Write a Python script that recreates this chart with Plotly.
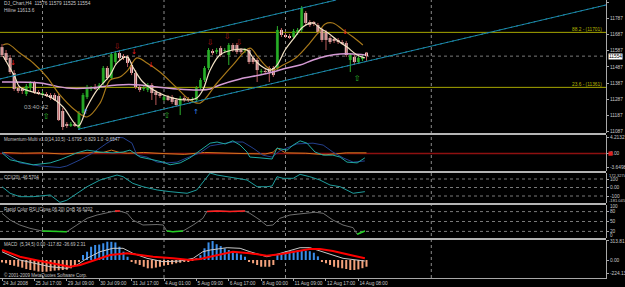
import plotly.graph_objects as go

# ---------------- data ----------------
bars = list(range(91))
opens = [11610, 11573, 11543, 11450, 11357, 11345, 11320, 11357, 11388, 11332,
         11314, 11320, 11314, 11314, 11308, 11215, 11135, 11122, 11135, 11110,
         11203, 11301, 11351, 11363, 11357, 11388, 11481, 11419, 11518, 11573,
         11555, 11549, 11499, 11450, 11363, 11351, 11345, 11376, 11332, 11320,
         11289, 11301, 11301, 11283, 11252, 11295, 11289, 11283, 11283, 11357,
         11407, 11481, 11586, 11580, 11604, 11586, 11561, 11623, 11623, 11592,
         11586, 11592, 11543, 11530, 11456, 11462, 11481, 11481, 11481, 11716,
         11685, 11678, 11672, 11697, 11716, 11821, 11765, 11759, 11746, 11716,
         11703, 11666, 11654, 11654, 11641, 11635, 11530, 11549, 11518, 11536,
         11576]
highs = [11629, 11592, 11561, 11468, 11369, 11357, 11382, 11400, 11400, 11345,
         11339, 11332, 11326, 11326, 11320, 11234, 11147, 11147, 11147, 11215,
         11326, 11376, 11369, 11382, 11388, 11493, 11493, 11580, 11586, 11592,
         11567, 11561, 11518, 11468, 11376, 11376, 11388, 11388, 11345, 11332,
         11314, 11314, 11314, 11295, 11308, 11308, 11301, 11301, 11369, 11419,
         11493, 11604, 11598, 11604, 11617, 11604, 11635, 11635, 11635, 11604,
         11604, 11604, 11555, 11543, 11475, 11475, 11493, 11493, 11740, 11728,
         11697, 11691, 11722, 11728, 11864, 11833, 11777, 11771, 11759, 11728,
         11716, 11678, 11666, 11666, 11654, 11648, 11573, 11561, 11555, 11561,
         11579]
lows = [11549, 11518, 11444, 11339, 11326, 11320, 11308, 11339, 11320, 11314,
        11308, 11301, 11283, 11277, 11153, 11098, 11110, 11116, 11116, 11098,
        11190, 11289, 11339, 11345, 11345, 11376, 11407, 11407, 11505, 11530,
        11530, 11487, 11437, 11351, 11332, 11339, 11332, 11283, 11252, 11295,
        11277, 11277, 11258, 11240, 11190, 11271, 11271, 11271, 11271, 11345,
        11394, 11468, 11561, 11567, 11549, 11573, 11499, 11580, 11567, 11567,
        11573, 11505, 11505, 11394, 11444, 11444, 11394, 11425, 11468, 11672,
        11666, 11660, 11660, 11685, 11703, 11746, 11734, 11740, 11691, 11641,
        11592, 11629, 11635, 11629, 11623, 11549, 11456, 11499, 11505, 11524,
        11525]
closes = [11561, 11530, 11456, 11351, 11339, 11339, 11369, 11388, 11332, 11326,
          11326, 11308, 11295, 11283, 11159, 11116, 11122, 11135, 11128, 11203,
          11314, 11363, 11357, 11357, 11376, 11481, 11419, 11567, 11573, 11543,
          11543, 11512, 11450, 11363, 11345, 11357, 11376, 11326, 11314, 11308,
          11301, 11289, 11271, 11252, 11295, 11283, 11283, 11289, 11357, 11407,
          11481, 11592, 11573, 11592, 11561, 11592, 11623, 11592, 11580, 11580,
          11592, 11518, 11518, 11468, 11462, 11456, 11456, 11437, 11716, 11685,
          11678, 11672, 11709, 11716, 11852, 11759, 11746, 11753, 11703, 11654,
          11654, 11641, 11648, 11641, 11635, 11561, 11561, 11518, 11543, 11549,
          11554]

ma_fast_x = [0.25, 3.2, 4.4, 7.7, 11.9, 15.1, 18.8, 21.0, 23.5, 26.7, 28.4, 30.9, 32.3,
             34.8, 38.3, 42.2, 45.7, 48.1, 49.6, 51.4, 53.8, 57.0, 60.5, 62.0, 63.7,
             66.2, 67.9, 69.9, 72.3, 74.3, 76.8, 78.5, 80.5, 82.7, 85.2, 87.7, 89.6]
ma_fast_y = [11555, 11425, 11363, 11332, 11301, 11240, 11122, 11240, 11345, 11437, 11512,
             11549, 11487, 11394, 11332, 11295, 11283, 11295, 11345, 11468, 11561, 11592,
             11592, 11543, 11499, 11468, 11499, 11592, 11672, 11734, 11759, 11728, 11697,
             11654, 11610, 11561, 11543]
ma_mid_x = [0.25, 1.5, 4.4, 7.7, 11.1, 14.3, 18.0, 21.0, 24.2, 26.7, 29.1, 31.1, 33.3,
            35.8, 39.0, 43.2, 46.4, 48.9, 53.1, 57.0, 61.2, 63.2, 65.4, 66.9, 69.4,
            72.8, 76.0, 78.0, 79.8, 81.7, 84.2, 86.7, 89.1]
ma_mid_y = [11623, 11629, 11573, 11512, 11425, 11314, 11221, 11178, 11264, 11407, 11425,
            11468, 11543, 11512, 11456, 11357, 11283, 11264, 11388, 11499, 11604, 11549,
            11487, 11468, 11499, 11549, 11635, 11697, 11753, 11759, 11716, 11672, 11623]
ma_slow_x = [0.0, 9.4, 16.0, 21.7, 28.4, 34.1, 38.3, 43.2, 48.9, 51.4, 53.8, 58.8, 63.7,
             66.9, 70.4, 73.6, 76.8, 80.2, 83.5, 86.7, 89.6]
ma_slow_y = [11394, 11388, 11357, 11357, 11376, 11376, 11363, 11351, 11345, 11351, 11376,
             11413, 11437, 11456, 11481, 11499, 11530, 11555, 11567, 11567, 11561]

channel_upper_x = [-0.5, 82.5]
channel_upper_y = [11413, 11901]
channel_lower_x = [18.8, 149.1]
channel_lower_y = [11102, 11870]

fib_levels = [11701, 11361]
fib_labels = ["88.2 - (11701)", "23.6 - (11361)"]
bid_price = 11554

sell_hollow_x = [28.4, 51.4, 55.6, 58.5]
sell_hollow_y = [11610, 11635, 11672, 11635]
sell_small_x = [2.7, 32.6, 36.8, 84.7]
sell_small_y = [11512, 11580, 11499, 11703]
buy_hollow_x = [10.9, 40.7, 87.7]
buy_hollow_y = [11180, 11184, 11413]
buy_small_x = [20.7, 47.9]
buy_small_y = [11209, 11209]

price_ticks = [11887, 11787, 11687, 11587, 11487, 11387, 11287, 11187, 11087]

# Momentum-Multi
mom_navy_x = [0, 4.4, 9.4, 14.3, 16.0, 19.3, 22.5, 25.9, 28.4, 29.9, 32.1, 33.3, 35.8, 38.3,
              40.7, 43.2, 45.7, 48.9, 51.4, 57.0, 59.5, 62.0, 64.4, 66.7, 68.6, 72.8, 76.8,
              79.3, 81.7, 84.2, 86.7, 89.6]
mom_navy_y = [0.4, -2.4, -3.2, -3.6, -3.2, -1.6, 0.2, 2.7, 4.2, 4.1, 2.7, -0.4, -0.9, -2.2,
              -2.4, -2.2, -1.1, 0.2, 2.0, 3.0, 3.0, 1.4, -0.4, -0.9, 0.7, 2.5, 2.7, 2.2, 0.4,
              -1.1, -2.2, -1.9]
mom_teal_x = [0, 2.0, 7.7, 11.9, 14.3, 18.5, 21.0, 24.2, 27.4, 29.9, 31.6, 34.1, 37.3, 39.8,
              41.5, 44.0, 46.4, 48.9, 51.4, 53.1, 55.1, 57.0, 58.8, 60.5, 61.2, 63.7, 66.7,
              67.9, 70.4, 71.9, 73.6, 75.3, 77.3, 79.3, 81.7, 83.5, 85.2, 87.7, 89.6]
mom_teal_y = [0.2, -1.6, -2.9, -2.4, -1.6, 0.2, 0.9, 0.4, 0.2, 0.4, 0.9, -0.9, -1.6, -2.2,
              -2.9, -2.4, -1.1, 0.9, 2.7, 3.0, 2.5, 3.3, 2.2, 0.4, -0.9, -1.1, -1.4, 1.4, 0.9,
              2.2, 3.3, 2.7, 0.4, -0.4, -0.4, -0.9, -2.2, -2.4, -1.1]
mom_orange_x = [0, 5, 10, 15, 20, 25, 27, 29, 31, 35, 40, 45, 50, 55, 60, 65, 67, 68, 70,
                75, 80, 85, 88, 90]
mom_orange_y = [0.3, 0.1, 0.2, -0.1, 0.2, 0.3, 0.9, 0.3, 0.1, 0.3, 0.0, -0.2, 0.3, 0.1, 0.0,
                -0.1, 0.4, 1.4, 0.2, 0.1, -0.3, 0.2, 0.1, 0.2]
mom_ticks = [4.2132, 0.0, -3.6498]
mom_tick_text = ["4.2132", "0.00", "-3.6498"]

# CCI(20)
cci_x = [0, 2.0, 4.4, 7.7, 11.9, 14.3, 16.0, 18.5, 21.0, 24.2, 26.7, 28.4, 29.9, 32.3, 34.8,
         38.3, 41.5, 45.7, 48.1, 51.4, 53.1, 55.6, 57.0, 60.5, 63.0, 65.4, 66.7, 67.9, 69.4,
         71.9, 73.6, 76.0, 78.5, 81.0, 83.5, 85.2, 86.7, 89.6]
cci_y = [9, -68, -108, -108, -88, -175, -150, -68, 9, 88, 127, 147, 127, 49, 9, -29, -49,
         -68, -29, 170, 147, 127, 120, 88, 9, 9, 18, 127, 108, 108, 155, 127, 88, 29, 9, -29,
         -68, -49]
cci_levels = [100, 0, -100]
cci_max_label = "172.3274"
cci_min_label = "-181.0452"

# Rapid Color RSI
rsi_x = [0, 2.0, 4.4, 6.9, 9.9, 13.1, 16.0, 18.5, 21.0, 23.5, 26.7, 27.9, 29.1, 30.9, 32.3,
         34.8, 38.3, 39.8, 40.7, 42.2, 44.7, 47.2, 49.6, 50.6, 53.1, 56.3, 60.0, 61.2, 63.7,
         65.4, 66.9, 68.6, 71.1, 75.3, 77.3, 79.3, 81.7, 84.2, 86.7, 87.7, 89.1, 89.6]
rsi_y = [74.8, 54.5, 39.4, 29.4, 21.2, 19.7, 19.1, 39.4, 59.7, 69.7, 77.9, 81.8, 81.8, 74.8,
         54.5, 39.4, 40.9, 39.4, 21.0, 19.1, 21.2, 39.4, 59.7, 80.5, 81.8, 80.5, 81.8, 74.8,
         54.5, 37.3, 39.4, 59.7, 69.7, 74.8, 78.0, 74.8, 54.5, 39.4, 31.2, 11.2, 17.3, 21.2]
rsi_levels = [80, 50, 20]
rsi_tick_text = ["80", "50", "20"]

# MACD
macd_hist = [-40, -54, -83, -95, -111, -127, -150, -165, -175, -190,
             -193, -193, -185, -175, -170, -165, -160, -137, -83, -30,
             83, 137, 219, 248, 255, 276, 302, 300, 290, 219,
             137, 54, -17, -60, -83, -111, -137, -137, -125, -111,
             -90, -83, -70, -54, -45, -28, -22, -10, 30, 80,
             193, 290, 313, 260, 230, 190, 165, 137, 111, 90,
             54, -28, -54, -83, -111, -111, -111, -83, 83, 111,
             137, 145, 153, 160, 165, 153, 145, 120, 60, -17,
             -54, -83, -111, -127, -137, -149, -165, -165, -155, -135,
             -111]
macd_signal_x = [0, 4.4, 9.4, 14.3, 16.8, 19.3, 21.7, 24.2, 26.7, 30.9, 34.1, 37.3, 42.2,
                 46.4, 48.9, 53.1, 57.0, 61.2, 65.4, 68.6, 72.8, 76.0, 78.5, 81.7, 85.2, 89.6]
macd_signal_y = [165, 54, -17, -83, -111, -83, -28, 28, 83, 111, 83, 54, 28, 0, 17, 83, 137,
                 111, 71, 94, 137, 182, 182, 149, 94, 28]
macd_main_x = [0, 4.4, 11.9, 16.0, 18.5, 21.0, 24.2, 27.4, 29.9, 32.3, 35.8, 39.8, 44.0,
               47.2, 49.6, 51.4, 55.6, 58.8, 61.2, 65.4, 67.9, 70.4, 73.6, 76.0, 80.2, 84.2,
               89.6]
macd_main_y = [137, 0, -111, -137, -83, 28, 137, 193, 193, 111, 28, -28, -17, 28, 137, 165,
               203, 193, 137, 54, 94, 137, 203, 203, 111, 28, -17]
macd_ticks = [313.81, 0.0, -224.13]
macd_tick_text = ["313.81", "0.00", "-224.13"]

x_tick_bars = [0, 8, 16, 24, 32, 40, 48, 56, 64, 72, 80, 88]
x_tick_text = ["24 Jul 2008", "25 Jul 17:00", "29 Jul 09:00", "30 Jul 09:00",
               "31 Jul 17:00", "4 Aug 01:00", "5 Aug 09:00", "6 Aug 17:00",
               "8 Aug 00:00", "11 Aug 09:00", "12 Aug 17:00", "14 Aug 08:00"]
week_grid_bars = [10, 40, 70, 106]

# ---------------- styling ----------------
FONT = "Liberation Sans"
AX = "#A8A8A8"
TXT = "#C8C8C8"
H = 278.0  # plot-area height in px


def pdom(top_px, bot_px):
    return [1 - bot_px / H, 1 - top_px / H]


fig = go.Figure()

# candle wicks
bull = [i for i in bars if closes[i] >= opens[i]]
bear = [i for i in bars if closes[i] < opens[i]]
for idx, col in ((bear, "#B85A5A"), (bull, "#2DB02D")):
    wx, wy = [], []
    for i in idx:
        wx += [bars[i], bars[i], None]
        wy += [lows[i], highs[i], None]
    fig.add_trace(go.Scatter(x=wx, y=wy, mode="lines", line=dict(color=col, width=1),
                             hoverinfo="skip", xaxis="x", yaxis="y"))
# candle bodies
for idx, fill in ((bear, "#F5D2D2"), (bull, "#1F9A1F")):
    fig.add_trace(go.Bar(x=[bars[i] for i in idx],
                         y=[max(abs(closes[i] - opens[i]), 2.5) for i in idx],
                         base=[min(opens[i], closes[i]) for i in idx],
                         width=0.72, marker=dict(color=fill, line=dict(width=0)),
                         xaxis="x", yaxis="y"))

# moving averages
fig.add_trace(go.Scatter(x=ma_slow_x, y=ma_slow_y, mode="lines", line=dict(color="#D49AD4", width=1.5, shape="spline"), xaxis="x", yaxis="y"))
fig.add_trace(go.Scatter(x=ma_mid_x, y=ma_mid_y, mode="lines", line=dict(color="#A8791A", width=1.2, shape="spline"), xaxis="x", yaxis="y"))
fig.add_trace(go.Scatter(x=ma_fast_x, y=ma_fast_y, mode="lines", line=dict(color="#F2E2C4", width=1.2, shape="spline"), xaxis="x", yaxis="y"))

# channel
for cx, cy in ((channel_upper_x, channel_upper_y), (channel_lower_x, channel_lower_y)):
    fig.add_trace(go.Scatter(x=cx, y=cy, mode="lines", line=dict(color="#168E9A", width=1), xaxis="x", yaxis="y"))
    fig.add_trace(go.Scatter(x=cx, y=cy, mode="lines", line=dict(color="#2A78C0", width=1, dash="2px,4px"), xaxis="x", yaxis="y"))

# signal arrows
for ax_, ay_, glyph, col, sz in ((sell_hollow_x, sell_hollow_y, "⇩", "#B01818", 8),
                                 (sell_small_x, sell_small_y, "↓", "#F02020", 7),
                                 (buy_hollow_x, buy_hollow_y, "⇧", "#2CB82C", 8),
                                 (buy_small_x, buy_small_y, "↑", "#3A96FF", 7)):
    fig.add_trace(go.Scatter(x=ax_, y=ay_, mode="text", text=[glyph] * len(ax_),
                             textfont=dict(color=col, size=sz, family="DejaVu Sans"),
                             xaxis="x", yaxis="y"))

# momentum
fig.add_trace(go.Scatter(x=mom_orange_x, y=mom_orange_y, mode="lines", line=dict(color="#D2761E", width=1), xaxis="x", yaxis="y2"))
fig.add_trace(go.Scatter(x=mom_navy_x, y=mom_navy_y, mode="lines", line=dict(color="#24408E", width=1), xaxis="x", yaxis="y2"))
fig.add_trace(go.Scatter(x=mom_teal_x, y=mom_teal_y, mode="lines", line=dict(color="#1FA9A0", width=1), xaxis="x", yaxis="y2"))

# CCI
fig.add_trace(go.Scatter(x=cci_x, y=cci_y, mode="lines", line=dict(color="#1E9E9E", width=1), xaxis="x", yaxis="y3"))

# RSI
fig.add_trace(go.Scatter(x=rsi_x, y=rsi_y, mode="lines", line=dict(color="#6E6E6E", width=1), xaxis="x", yaxis="y4"))
fig.add_trace(go.Scatter(x=rsi_x, y=[v if v >= 80 else None for v in rsi_y], mode="lines",
                         line=dict(color="#FF2020", width=1.6), connectgaps=False, xaxis="x", yaxis="y4"))
fig.add_trace(go.Scatter(x=rsi_x, y=[v if v <= 21.5 else None for v in rsi_y], mode="lines",
                         line=dict(color="#22D022", width=1.6), connectgaps=False, xaxis="x", yaxis="y4"))

# MACD
fig.add_trace(go.Bar(x=bars, y=macd_hist, width=0.5,
                     marker=dict(color=["#3A8EEA" if v >= 0 else "#F4A27C" for v in macd_hist], line=dict(width=0)),
                     xaxis="x", yaxis="y5"))
fig.add_trace(go.Scatter(x=macd_main_x, y=macd_main_y, mode="lines", line=dict(color="#C8C8C8", width=1), xaxis="x", yaxis="y5"))
fig.add_trace(go.Scatter(x=macd_signal_x, y=macd_signal_y, mode="lines", line=dict(color="#FF0000", width=2), xaxis="x", yaxis="y5"))

yax_common = dict(side="right", anchor="x", showgrid=False, zeroline=False, showline=True,
                  linecolor=AX, linewidth=1, ticks="outside", ticklen=2, tickcolor=AX,
                  tickfont=dict(size=4.8, color=TXT, family=FONT), automargin=False, fixedrange=True)

shapes = []
# weekly grid
for b in week_grid_bars:
    shapes.append(dict(type="line", xref="x", yref="paper", x0=b, x1=b, y0=0, y1=1,
                       line=dict(color="#8C8C8C", width=1, dash="dot"), layer="below"))
# bid line and fib levels
shapes.append(dict(type="line", xref="paper", yref="y", x0=0, x1=1, y0=bid_price, y1=bid_price,
                   line=dict(color="#7A7A7A", width=1, dash="dot"), layer="below"))
for lv in fib_levels:
    shapes.append(dict(type="line", xref="paper", yref="y", x0=0, x1=1, y0=lv, y1=lv,
                       line=dict(color="#A6A600", width=1), layer="below"))
# momentum zero line
shapes.append(dict(type="line", xref="paper", yref="y2", x0=0, x1=1, y0=0, y1=0,
                   line=dict(color="#8E1010", width=1.5), layer="below"))
shapes.append(dict(type="rect", xref="paper", yref="y2", x0=1.004, x1=1.011, y0=-0.55, y1=0.55,
                   fillcolor="#E02020", line=dict(width=0)))
for lv in cci_levels:
    shapes.append(dict(type="line", xref="paper", yref="y3", x0=0, x1=1, y0=lv, y1=lv,
                       line=dict(color="#7A7A7A", width=1, dash="dot"), layer="below"))
for lv in rsi_levels:
    shapes.append(dict(type="line", xref="paper", yref="y4", x0=0, x1=1, y0=lv, y1=lv,
                       line=dict(color="#7A7A7A", width=1, dash="dot"), layer="below"))
# panel separators
for px in (134, 172, 204, 239):
    yy = 1 - px / H
    shapes.append(dict(type="line", xref="paper", yref="paper", x0=0, x1=1, y0=yy, y1=yy,
                       line=dict(color="#B4B4B4", width=2)))

def tx(text, x, y, xref="paper", yref="paper", size=4.8, color=TXT, xanchor="left", **kw):
    return dict(text=text, x=x, y=y, xref=xref, yref=yref, showarrow=False, xanchor=xanchor,
                yanchor="middle", font=dict(size=size, color=color, family=FONT), **kw)

x_left = 2 / 606
annotations = [
    tx("DJ_Chart,H4  11576 11579 11525 11554", x_left, 1 - 3.5 / H),
    tx("Hiline 11613.6", x_left, 1 - 10 / H),
    tx("Momentum-Multi v1.0(14,10,5) -1.6795 -0.829 1.0 -0.6547", x_left, 1 - 139 / H, size=4.5),
    tx("CCI(20) -46.5704", x_left, 1 - 177 / H, size=4.5),
    tx("Rapid Color RSI (Close,06,20) OnB 36.6202", x_left, 1 - 209 / H, size=4.5),
    tx("MACD  (5,34,5) 0.00 -117.82 -36.69 2.31", x_left, 1 - 244.3 / H, size=4.5),
    tx("© 2001-2009 MetaQuotes Software Corp.", x_left, 1 - 274.5 / H, size=4.5),
    tx("03:40:42", 8.6, 11245, xref="x", yref="y", size=6.2, color="#A8A8A8", xanchor="center"),
    tx(fib_labels[0], 0.996, fib_levels[0], yref="y", size=4.8, color="#B8B800", xanchor="right", yshift=3),
    tx(fib_labels[1], 0.996, fib_levels[1], yref="y", size=4.8, color="#B8B800", xanchor="right", yshift=3),
    tx(str(bid_price), 1.0, bid_price, yref="y", size=4.8, color="#000000", xshift=2, bgcolor="#FFFFFF", borderpad=0),
    tx(cci_max_label, 1.0, 1 - 175 / H, size=4.1, xshift=1),
    tx(cci_min_label, 1.0, 1 - 200.5 / H, size=4.1, xshift=1),
    tx("100", 1.0, 1 - 206.7 / H, size=4.6, xshift=2),
    tx("0", 1.0, 1 - 235 / H, size=4.6, xshift=2),
]

fig.update_layout(
    width=625, height=287, margin=dict(l=0, r=19, t=0, b=9),
    paper_bgcolor="#000000", plot_bgcolor="#000000", showlegend=False, barmode="overlay",
    hovermode=False,
    xaxis=dict(domain=[0, 1], range=[-0.494, 149.14], anchor="y5", showgrid=False, zeroline=False,
               showline=True, linecolor=AX, linewidth=1, ticks="outside", ticklen=2, tickcolor=AX,
               tickvals=x_tick_bars, ticktext=x_tick_text, ticklabelposition="outside right",
               tickangle=0, tickfont=dict(size=4.8, color=TXT, family=FONT), automargin=False,
               fixedrange=True),
    yaxis=dict(domain=pdom(0, 133), range=[11079, 11901], tickvals=price_ticks,
               ticktext=[str(v) for v in price_ticks], **yax_common),
    yaxis2=dict(domain=pdom(135, 171), range=[-4.50, 4.81], tickvals=mom_ticks,
                ticktext=mom_tick_text, **yax_common),
    yaxis3=dict(domain=pdom(173, 203), range=[-182.4, 170.6], tickvals=cci_levels,
                ticktext=["100", "0.00", "-100"], **yax_common),
    yaxis4=dict(domain=pdom(205, 238), range=[0, 100], tickvals=rsi_levels,
                ticktext=rsi_tick_text, **yax_common),
    yaxis5=dict(domain=pdom(240, 278), range=[-297, 330], tickvals=macd_ticks,
                ticktext=macd_tick_text, **yax_common),
    shapes=shapes, annotations=annotations,
)

fig.write_html("out.html")
